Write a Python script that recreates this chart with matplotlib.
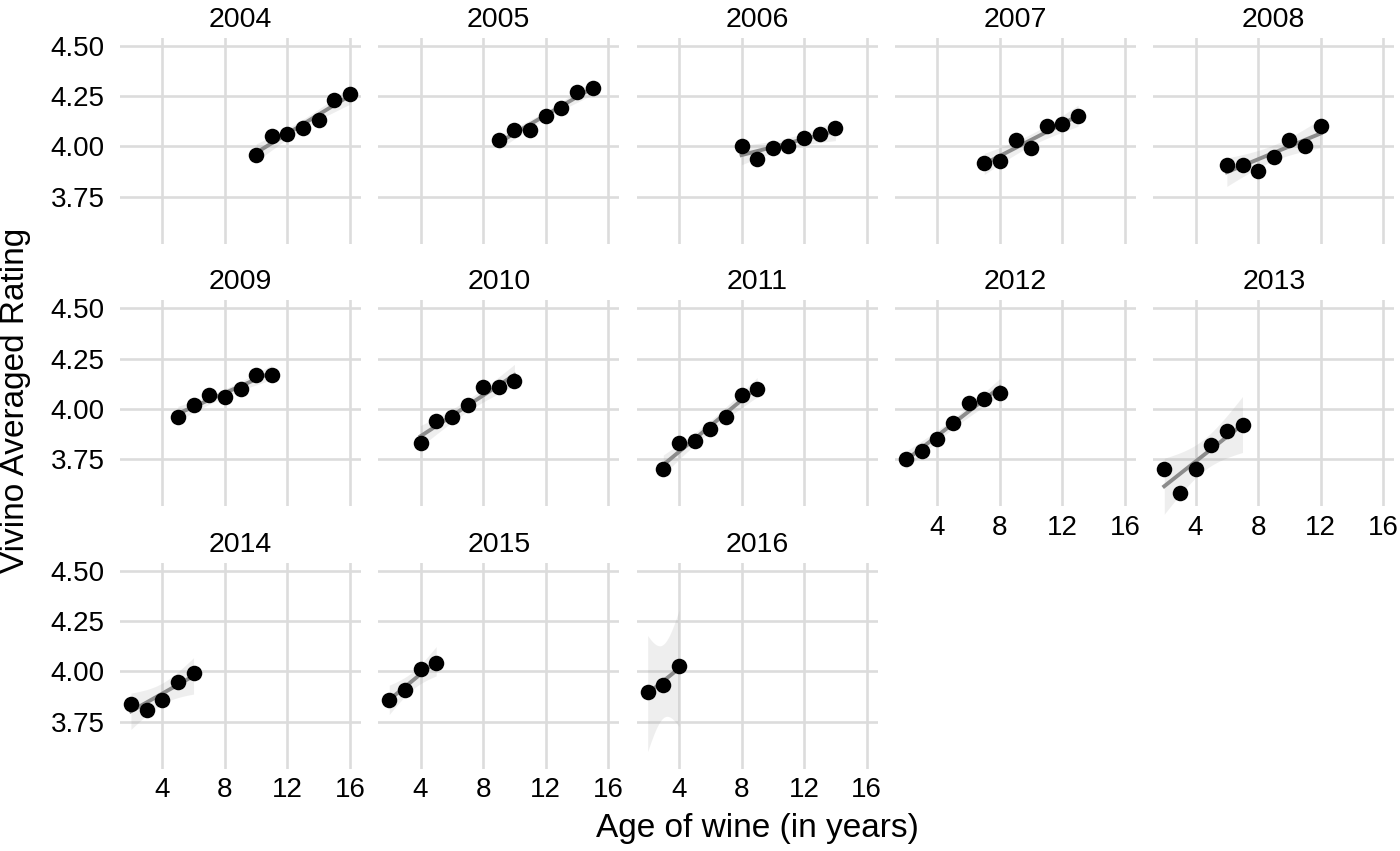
import numpy as np
import matplotlib.pyplot as plt

years = [2004, 2005, 2006, 2007, 2008, 2009, 2010, 2011, 2012, 2013, 2014, 2015, 2016]
ages = [
    [10, 11, 12, 13, 14, 15, 16],
    [9, 10, 11, 12, 13, 14, 15],
    [8, 9, 10, 11, 12, 13, 14],
    [7, 8, 9, 10, 11, 12, 13],
    [6, 7, 8, 9, 10, 11, 12],
    [5, 6, 7, 8, 9, 10, 11],
    [4, 5, 6, 7, 8, 9, 10],
    [3, 4, 5, 6, 7, 8, 9],
    [2, 3, 4, 5, 6, 7, 8],
    [2, 3, 4, 5, 6, 7],
    [2, 3, 4, 5, 6],
    [2, 3, 4, 5],
    [2, 3, 4],
]
ratings = [
    [3.96, 4.05, 4.06, 4.09, 4.13, 4.23, 4.26],
    [4.03, 4.08, 4.08, 4.15, 4.19, 4.27, 4.29],
    [4.00, 3.94, 3.99, 4.00, 4.04, 4.06, 4.09],
    [3.92, 3.93, 4.03, 3.99, 4.10, 4.11, 4.15],
    [3.91, 3.91, 3.88, 3.95, 4.03, 4.00, 4.10],
    [3.96, 4.02, 4.07, 4.06, 4.10, 4.17, 4.17],
    [3.83, 3.94, 3.96, 4.02, 4.11, 4.11, 4.14],
    [3.70, 3.83, 3.84, 3.90, 3.96, 4.07, 4.10],
    [3.75, 3.79, 3.85, 3.93, 4.03, 4.05, 4.08],
    [3.70, 3.58, 3.70, 3.82, 3.89, 3.92],
    [3.84, 3.81, 3.86, 3.95, 3.99],
    [3.86, 3.91, 4.01, 4.04],
    [3.90, 3.932, 4.025],
]

x_ticks = [4, 8, 12, 16]
y_ticks = [3.75, 4.00, 4.25, 4.50]

plt.rcParams['font.family'] = ['Liberation Sans', 'DejaVu Sans']

W, H = 1400, 851
fig = plt.figure(figsize=(W / 100, H / 100), dpi=100)

# 97.5% t quantiles by residual df (n - 2)
t975 = {1: 12.706, 2: 4.303, 3: 3.182, 4: 2.776, 5: 2.571}


def lm_band(x, y):
    x = np.asarray(x, float)
    y = np.asarray(y, float)
    n = len(x)
    b, a = np.polyfit(x, y, 1)
    xs = np.linspace(x.min(), x.max(), 80)
    fit = a + b * xs
    resid = y - (a + b * x)
    s = np.sqrt(np.sum(resid ** 2) / (n - 2))
    se = s * np.sqrt(1 / n + (xs - x.mean()) ** 2 / np.sum((x - x.mean()) ** 2))
    hw = t975[n - 2] * se
    return xs, fit, fit - hw, fit + hw


col_left = [120, 378.3, 636.7, 895, 1153.3]
row_top = [37.7, 300, 562.7]
pw, ph = 241, 206.3

for i, yr in enumerate(years):
    r, c = i // 5, i % 5
    ax = fig.add_axes([col_left[c] / W, 1 - (row_top[r] + ph) / H, pw / W, ph / H])
    xs, fit, lo, hi = lm_band(ages[i], ratings[i])
    band = ax.fill_between(xs, lo, hi, color='#9a9a9a', alpha=0.16, linewidth=0, zorder=2)
    band.set_clip_on(False)
    ax.plot(xs, fit, color='#8c8c8c', linewidth=2.8, zorder=3, clip_on=False)
    ax.scatter(ages[i], ratings[i], s=125, color='black', zorder=4, linewidths=0)

    ax.set_xlim(1.3, 16.7)
    ax.set_ylim(3.515, 4.541)
    ax.set_xticks(x_ticks)
    ax.set_yticks(y_ticks)
    ax.set_yticklabels(['%.2f' % v for v in y_ticks])
    ax.grid(color='#dcdcdc', linewidth=1.9)
    ax.set_axisbelow(True)
    for sp in ax.spines.values():
        sp.set_visible(False)
    ax.tick_params(length=0, labelsize=20, colors='black', pad=11)
    ax.tick_params(axis='x', pad=6)
    if c != 0:
        ax.tick_params(axis='y', labelleft=False)
    if i + 5 < len(years):
        ax.tick_params(axis='x', labelbottom=False)
    ax.set_title(str(yr), fontsize=20.5, pad=8)

fig.text(757 / W, 1 - 828 / H, 'Age of wine (in years)', ha='center', va='center', fontsize=24)
fig.text(16 / W, 1 - 400 / H, 'Vivino Averaged Rating', ha='center', va='center',
         rotation=90, fontsize=24)

fig.savefig('out.png', dpi=100)
